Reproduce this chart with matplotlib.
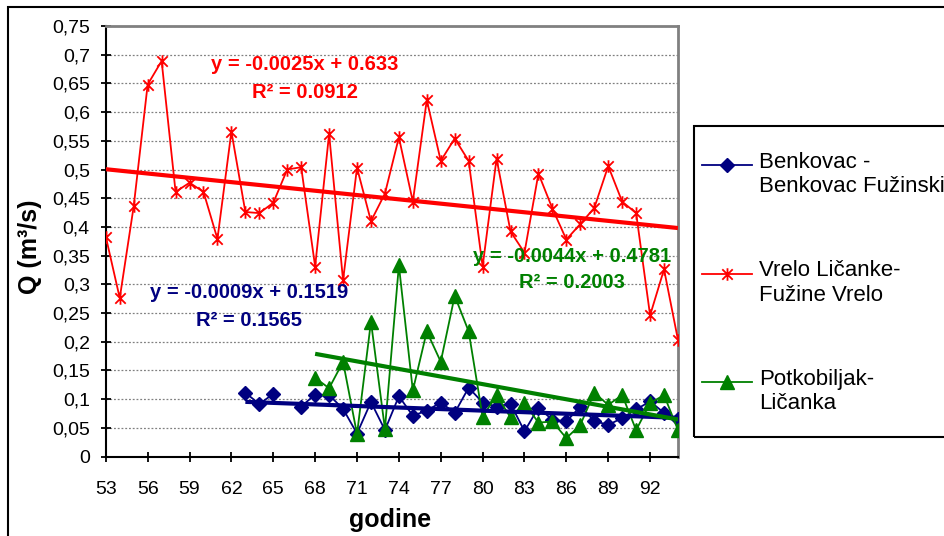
import numpy as np
import matplotlib
matplotlib.use("Agg")
from matplotlib import pyplot as plt
from matplotlib.path import Path
from matplotlib.lines import Line2D
from matplotlib.patches import Rectangle

plt.rcParams['font.family'] = ['Liberation Sans', 'DejaVu Sans']

# podaci
godine_vrelo = list(range(53, 95))
vrelo = [0.383, 0.276, 0.436, 0.648, 0.689, 0.461, 0.477, 0.461, 0.379, 0.566,
         0.426, 0.424, 0.442, 0.500, 0.504, 0.331, 0.562, 0.307, 0.503, 0.410,
         0.458, 0.556, 0.444, 0.621, 0.515, 0.554, 0.515, 0.331, 0.519, 0.392,
         0.355, 0.493, 0.432, 0.378, 0.405, 0.433, 0.506, 0.444, 0.424, 0.246,
         0.326, 0.203]

godine_benkovac = list(range(63, 95))
benkovac = [0.111, 0.0915, 0.109, np.nan, 0.087, 0.108, 0.107, 0.083, 0.040, 0.095,
            0.046, 0.105, 0.071, 0.080, 0.094, 0.076, 0.120, 0.094, 0.087, 0.092,
            0.044, 0.085, 0.064, 0.061, 0.087, 0.062, 0.055, 0.067, 0.082, 0.096,
            0.076, 0.065]

godine_potk = list(range(68, 95))
potkobiljak = [0.137, 0.119, 0.165, 0.039, 0.235, 0.048, 0.333, 0.115, 0.218, 0.165,
               0.280, 0.218, 0.069, 0.107, 0.068, 0.093, 0.059, 0.061, 0.032, 0.055,
               0.111, 0.090, 0.107, 0.046, 0.093, 0.107, 0.046]

# trend (linearni) iz jednadzbi na slici
nagib = [-0.0009, -0.0025, -0.0044]
odsjecak = [0.1519, 0.633, 0.4781]
r2 = [0.1565, 0.0912, 0.2003]

nazivi = ["Benkovac -\nBenkovac Fužinski", "Vrelo Ličanke-\nFužine Vrelo", "Potkobiljak-\nLičanka"]
boje = ["#000080", "#FF0000", "#008000"]

W, H = 945, 536


def fx(px):
    return px / W


def fy(py):
    return 1 - py / H


# zvjezdica kao u Excelu (x + okomita crta)
star = Path([(-1, -1), (1, 1), (-1, 1), (1, -1), (0, -1.2), (0, 1.2)],
            [Path.MOVETO, Path.LINETO, Path.MOVETO, Path.LINETO, Path.MOVETO, Path.LINETO])

fig = plt.figure(figsize=(W / 100, H / 100), dpi=100)
ax = fig.add_axes([fx(105.8), fy(456.5), (678 - 105.8) / W, (456.5 - 26) / H])

serije = [(godine_benkovac, benkovac), (godine_vrelo, vrelo), (godine_potk, potkobiljak)]
markeri = [dict(marker='D', markersize=7.5),
           dict(marker=star, markersize=9, markeredgewidth=1.3),
           dict(marker='^', markersize=9.5)]

for (x, y), c, m in zip(serije, boje, markeri):
    ax.plot(x, y, color=c, lw=1.3, markerfacecolor=c, markeredgecolor=c, zorder=3, **m)

for (x, y), c, k, b in zip(serije, boje, nagib, odsjecak):
    xt = np.array([x[0], x[-1]])
    ax.plot(xt, k * xt + b, color=c, lw=3, zorder=4, solid_capstyle='butt')

ax.set_xlim(53, 94)
ax.set_ylim(0, 0.75)
ax.set_xticks(range(53, 94, 3))
yt = np.round(np.arange(0, 0.751, 0.05), 2)
ax.set_yticks(yt)
ax.set_yticklabels([('%g' % v).replace('.', ',') for v in yt])
ax.tick_params(direction='inout', length=7, width=1.3, labelsize=14, color='black')
ax.tick_params(axis='y', pad=8)
ax.tick_params(axis='x', pad=14)
ax.yaxis.grid(True, color='#808080', linestyle=(0, (1.5, 1.5)), linewidth=0.9)
ax.set_axisbelow(True)

for s in ['left', 'bottom']:
    ax.spines[s].set_color('black')
    ax.spines[s].set_linewidth(1.5)
for s in ['top', 'right']:
    ax.spines[s].set_color('#808080')
    ax.spines[s].set_linewidth(2)

# jednadzbe trenda
poz = [(249, 293, 321), (305, 65, 93), (572, 256, 283)]
for (px, py1, py2), c, k, b, r in zip(poz, boje, nagib, odsjecak, r2):
    fig.text(fx(px), fy(py1), "y = %gx + %g" % (k, b), color=c, fontsize=14.5,
             fontweight='bold', ha='center', va='center')
    fig.text(fx(px), fy(py2), "R² = %g" % r, color=c, fontsize=14.5,
             fontweight='bold', ha='center', va='center')

fig.text(fx(390), fy(520), "godine", fontsize=18, fontweight='bold', ha='center', va='center')
fig.text(fx(30), fy(247), "Q (m³/s)", fontsize=18, fontweight='bold', ha='center',
         va='center', rotation=90)

# legenda
fig.add_artist(Rectangle((fx(694), fy(437)), 1.0, (437 - 126) / H, transform=fig.transFigure,
                         facecolor='none', edgecolor='black', lw=1.5))
for i, (c, m) in enumerate(zip(boje, markeri)):
    ly = 165 + i * 108.5
    fig.add_artist(Line2D([fx(702), fx(752)], [fy(ly), fy(ly)], transform=fig.transFigure,
                          color=c, lw=1.3))
    fig.add_artist(Line2D([fx(727)], [fy(ly)], transform=fig.transFigure, color=c,
                          linestyle='none', markerfacecolor=c, markeredgecolor=c, **m))
    fig.text(fx(759), fy(ly - 13), nazivi[i], fontsize=16, ha='left', va='top',
             linespacing=1.2)

# okvir grafikona
fig.add_artist(Rectangle((fx(8), -0.1), 1.0, fy(7) + 0.1, transform=fig.transFigure,
                         facecolor='none', edgecolor='black', lw=1.5))

fig.savefig("out.png", dpi=100)
